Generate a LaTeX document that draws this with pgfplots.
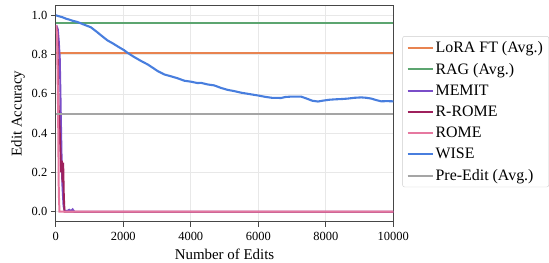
\documentclass[border=0pt]{standalone}
\usepackage{fontspec}
\setmainfont{Liberation Serif}
\usepackage{pgfplots}
\pgfplotsset{compat=1.18}
\definecolor{loracol}{RGB}{232,131,80}
\definecolor{ragcol}{RGB}{92,165,112}
\definecolor{memitcol}{RGB}{122,78,200}
\definecolor{rromecol}{RGB}{158,32,92}
\definecolor{romecol}{RGB}{230,120,160}
\definecolor{wisecol}{RGB}{72,126,222}
\definecolor{precol}{RGB}{165,165,165}
\definecolor{axiscol}{RGB}{70,70,70}
\begin{document}
\begin{tikzpicture}
\begin{axis}[
  scale only axis,
  width=339pt, height=217pt,
  xmin=0, xmax=10000, ymin=-0.05, ymax=1.05,
  xtick={0,2000,4000,6000,8000,10000},
  ytick={0,0.2,0.4,0.6,0.8,1.0},
  scaled x ticks=false,
  /pgf/number format/assume math mode=true,
  xticklabel style={/pgf/number format/1000 sep={}, font=\fontsize{12.5}{14}\selectfont, yshift=-2.5pt},
  yticklabel style={/pgf/number format/fixed, /pgf/number format/fixed zerofill, /pgf/number format/precision=1, font=\fontsize{12.5}{14}\selectfont},
  tick align=outside,
  major tick length=5pt,
  tick style={axiscol, line width=0.8pt},
  xtick pos=bottom, ytick pos=left,
  axis line style={axiscol, line width=1pt},
  grid=major,
  grid style={gray!18, line width=0.6pt},
  xlabel={Number of Edits}, ylabel={Edit Accuracy},
  label style={font=\fontsize{15}{17}\selectfont},
  xlabel style={yshift=-1pt},
  ylabel style={yshift=0pt},
  legend style={at={(1.027,0.858)}, anchor=north west, font=\fontsize{16}{19}\selectfont,
    draw=gray!40, rounded corners=2pt, inner xsep=4pt, inner ysep=3pt,
    row sep=5.2pt, cells={anchor=west}},
  legend image code/.code={\draw[#1] (0cm,0cm) -- (0.88cm,0cm);},
]
\addplot[color=loracol, line width=1.8pt] coordinates {(0,0.81) (10000,0.81)};
\addlegendentry{LoRA FT (Avg.)}
\addplot[color=ragcol, line width=1.8pt] coordinates {(0,0.96) (10000,0.96)};
\addlegendentry{RAG (Avg.)}
\addplot[color=memitcol, line width=1.9pt] coordinates {
(10,0.95) (60,0.93) (90,0.87) (120,0.78) (140,0.60) (160,0.40) (180,0.22) (200,0.12) (230,0.03) (260,0.005) (350,0.005) (400,0.01) (450,0.004) (500,0.012) (550,0) (10000,0)};
\addlegendentry{MEMIT}
\addplot[color=rromecol, line width=1.9pt] coordinates {
(10,0.95) (50,0.90) (80,0.55) (110,0.45) (140,0.30) (160,0.20) (180,0.26) (200,0.15) (220,0.25) (240,0.08) (260,0.0) (10000,0)};
\addlegendentry{R-ROME}
\addplot[color=romecol, line width=2pt] coordinates {
(10,0.95) (40,0.90) (70,0.50) (90,0.10) (110,0.0) (10000,0)};
\addlegendentry{ROME}
\addplot[color=wisecol, line width=2.1pt] coordinates {
(0,1.0) (100,0.995) (200,0.99) (300,0.983) (400,0.978) (500,0.972) (644,0.966) (800,0.955) (1039,0.939) (1200,0.918) (1400,0.89) (1534,0.872) (1700,0.856) (1850,0.84) (2027,0.822) (2127,0.809) (2300,0.79) (2500,0.77) (2721,0.75) (2900,0.73) (3018,0.716) (3214,0.699) (3400,0.690) (3600,0.680) (3807,0.667) (4006,0.662) (4200,0.655) (4303,0.656) (4500,0.648) (4697,0.643) (4900,0.630) (5100,0.620) (5291,0.614) (5490,0.606) (5700,0.600) (5985,0.592) (6200,0.585) (6400,0.580) (6677,0.579) (6800,0.584) (6973,0.586) (7270,0.586) (7450,0.575) (7600,0.565) (7765,0.561) (7900,0.565) (8100,0.570) (8259,0.572) (8500,0.574) (8655,0.576) (8850,0.580) (9050,0.582) (9200,0.580) (9347,0.576) (9500,0.568) (9644,0.562) (9800,0.563) (10000,0.562)};
\addlegendentry{WISE}
\addplot[color=precol, line width=1.9pt] coordinates {(0,0.497) (10000,0.497)};
\addlegendentry{Pre-Edit (Avg.)}
\end{axis}
\path ([xshift=-8pt]current bounding box.west) -- ([yshift=5pt]current bounding box.north);
\end{tikzpicture}
\end{document}
